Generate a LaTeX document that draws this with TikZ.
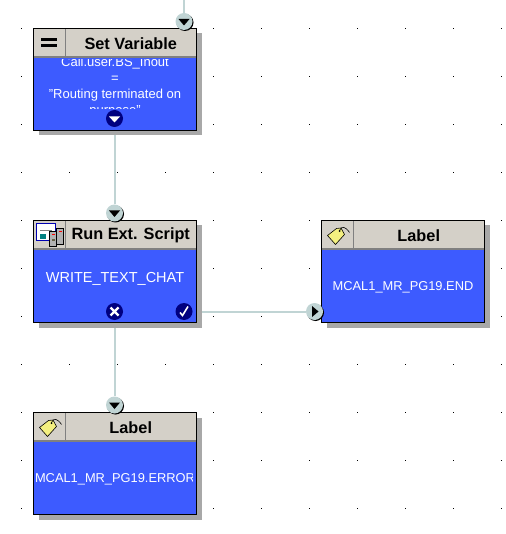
\documentclass[tikz,border=0pt]{standalone}
\usepackage{xcolor}
\usepackage{fontspec}
\setmainfont{Liberation Sans}
\usetikzlibrary{positioning, shadows, backgrounds}
\definecolor{blockBlue}{HTML}{3D5BFF}
\definecolor{headGray}{HTML}{D4D0C8}
\definecolor{linkGray}{HTML}{C0D4D4}
\definecolor{portNavy}{HTML}{000080}
\definecolor{shadeGray}{HTML}{A8A8A8}
\definecolor{tagYellow}{HTML}{F4F080}

\begin{document}
\begin{tikzpicture}[x=1pt, y=-1pt,
    block/.style={draw=black, line width=1.5pt, fill=blockBlue, minimum width=163pt,
      minimum height=102pt, outer sep=0pt, inner sep=0pt,
      general shadow={shadow xshift=5pt, shadow yshift=-5pt, fill=shadeGray}},
    headcell/.style={fill=headGray, minimum height=28pt, minimum width=130pt, outer sep=0pt,
      inner sep=0pt, font=\bfseries\fontsize{16.3}{16}\selectfont},
    iconcell/.style={fill=headGray, minimum height=28pt, minimum width=31pt, outer sep=0pt, inner sep=0pt},
    bodytext/.style={text=white, align=center, inner sep=0pt, font=\fontsize{14.5}{16}\selectfont},
    labeltext/.style={bodytext, font=\fontsize{12.85}{16}\selectfont},
    headrule/.style={draw=black!50, line width=2pt},
    celldiv/.style={draw=black!50, line width=1pt},
    link/.style={draw=linkGray, line width=2pt},
    inport/.style={circle, fill=linkGray, minimum size=17pt, inner sep=0pt,
      general shadow={shadow xshift=1pt, shadow yshift=-1pt, fill=black}},
    portdown/.style={inport, path picture={\fill[black] (path picture bounding box.center)
      ++(-5.5,-2.5) -- ++(11,0) -- ++(-5.5,6.5) -- cycle;}},
    portright/.style={inport, path picture={\fill[black] (path picture bounding box.center)
      ++(-2.5,-5.5) -- ++(6.5,5.5) -- ++(-6.5,5.5) -- cycle;}},
    outport/.style={circle, fill=portNavy, minimum size=17pt, inner sep=0pt},
    outdown/.style={outport, path picture={\fill[white] (path picture bounding box.center)
      ++(-5.5,-2) -- ++(11,0) -- ++(-5.5,6) -- cycle;}},
    outfail/.style={outport, path picture={\draw[white, line width=2.4pt]
      (path picture bounding box.center) +(-4,-4) -- +(4,4) +(-4,4) -- +(4,-4);}},
    outok/.style={outport, path picture={\draw[white, line width=1.6pt]
      (path picture bounding box.center) +(-4,1) -- +(-1.5,4) -- +(4,-5);}},
    equalicon/.pic={
      \fill[black] (7,9.5) rectangle (23,12.5);
      \fill[black] (7,16) rectangle (23,19);
    },
    scripticon/.pic={
      \draw[draw=blue!70!black, fill=white, line width=1pt] (3,3) rectangle (22,20);
      \fill[teal] (6,13) rectangle (12,18);
      \fill[black!50] (6,9) rectangle (18,10);
      \draw[fill=black!30, line width=.5pt] (23,8) rectangle (30,24);
      \draw[fill=black!30, line width=.5pt] (16,11) rectangle (23,26);
      \fill[red] (18,13) rectangle (21,14.5);
      \fill[black!70!yellow] (18,18) rectangle (21,20);
      \fill[red] (25,10) rectangle (28,11.5);
    },
    tagicon/.pic={
      \draw[fill=tagYellow, line width=.6pt] (6,15) -- (15,8) -- (19.5,7.5) -- (23,14) -- (14,24) -- cycle;
      \fill[black] (18,10.5) circle (1);
      \draw[line width=.6pt] (18,10) .. controls (20,5) and (24,6) .. (28,12);
    }]
    % canvas
    \useasboundingbox (0,0) rectangle (505,534);

    % set variable
    \node[block] (setvar) at (115,79.5) {};
    \node[iconcell, anchor=north west] (setvarIcon) at ([xshift=.75pt,yshift=-.75pt]setvar.north west) {};
    \node[headcell, anchor=north east] (setvarHead) at ([xshift=-.75pt,yshift=-.75pt]setvar.north east) {Set Variable};
    \draw[headrule] (setvarIcon.south west) -- (setvarHead.south east);
    \draw[celldiv] (setvarIcon.north east) -- (setvarIcon.south east);
    \pic at (setvar.north west) {equalicon};
    \begin{scope}
      \clip ([xshift=3pt,yshift=-31.5pt]setvar.north west) rectangle ([xshift=-3pt,yshift=21.5pt]setvar.south east);
      \node[bodytext, font=\fontsize{13}{16}\selectfont] (setvarText) at ([yshift=-7.5pt]setvar.center)
        {Call.user.BS\_Inout \\ = \\ "Routing terminated on \\ purpose"};
    \end{scope}

    % run ext. script
    \node[block, below=90pt of setvar] (runscript) {};
    \node[iconcell, anchor=north west] (runscriptIcon) at ([xshift=.75pt,yshift=-.75pt]runscript.north west) {};
    \node[headcell, anchor=north east] (runscriptHead) at ([xshift=-.75pt,yshift=-.75pt]runscript.north east) {Run Ext. Script};
    \draw[headrule] (runscriptIcon.south west) -- (runscriptHead.south east);
    \draw[celldiv] (runscriptIcon.north east) -- (runscriptIcon.south east);
    \pic at (runscript.north west) {scripticon};
    \node[bodytext] (runscriptText) at ([yshift=-7pt]runscript.center) {WRITE\_TEXT\_CHAT};

    % label on the right
    \node[block, right=125pt of runscript] (labelend) {};
    \node[iconcell, anchor=north west] (labelendIcon) at ([xshift=.75pt,yshift=-.75pt]labelend.north west) {};
    \node[headcell, anchor=north east] (labelendHead) at ([xshift=-.75pt,yshift=-.75pt]labelend.north east) {Label};
    \draw[headrule] (labelendIcon.south west) -- (labelendHead.south east);
    \draw[celldiv] (labelendIcon.north east) -- (labelendIcon.south east);
    \pic at (labelend.north west) {tagicon};
    \node[labeltext] (labelendText) at ([yshift=-16pt]labelend.center) {MCAL1\_MR\_PG19.END};

    % label at the bottom
    \node[block, below=90pt of runscript] (labelerr) {};
    \node[iconcell, anchor=north west] (labelerrIcon) at ([xshift=.75pt,yshift=-.75pt]labelerr.north west) {};
    \node[headcell, anchor=north east] (labelerrHead) at ([xshift=-.75pt,yshift=-.75pt]labelerr.north east) {Label};
    \draw[headrule] (labelerrIcon.south west) -- (labelerrHead.south east);
    \draw[celldiv] (labelerrIcon.north east) -- (labelerrIcon.south east);
    \pic at (labelerr.north west) {tagicon};
    \begin{scope}
      \clip ([xshift=3pt,yshift=-31pt]labelerr.north west) rectangle ([xshift=-4pt,yshift=2pt]labelerr.south east);
      \node[labeltext] (labelerrText) at ([yshift=-16pt]labelerr.center) {MCAL1\_MR\_PG19.ERROR};
    \end{scope}

    % ports
    \coordinate (setvarTop) at (184,0);
    \node[portdown] (setvarIn) at ([xshift=69pt,yshift=7pt]setvar.north) {};
    \node[outdown] (setvarOut) at ([xshift=-.5pt,yshift=12pt]setvar.south) {};
    \node[portdown] (runscriptIn) at ([xshift=-.5pt,yshift=7.5pt]runscript.north) {};
    \node[outfail] (runscriptFail) at ([xshift=-.5pt,yshift=11pt]runscript.south) {};
    \node[outok] (runscriptOk) at ([xshift=69pt,yshift=11pt]runscript.south) {};
    \node[portright] (labelendIn) at ([xshift=-7pt,yshift=11pt]labelend.south west) {};
    \node[portdown] (labelerrIn) at ([xshift=-.5pt,yshift=7.5pt]labelerr.north) {};

    \begin{scope}[on background layer]
      \foreach \dotx in {0,...,10}
        \foreach \doty in {0,...,10}
          \fill[black] (21+48*\dotx,28+48*\doty) rectangle +(1,1);
      \draw[link] (setvarTop) -- (setvarIn);
      \draw[link] (setvarOut) -- (runscriptIn);
      \draw[link] (runscriptOk) -- (labelendIn);
      \draw[link] (runscriptFail) -- (labelerrIn);
    \end{scope}
  \end{tikzpicture}
\end{document}
